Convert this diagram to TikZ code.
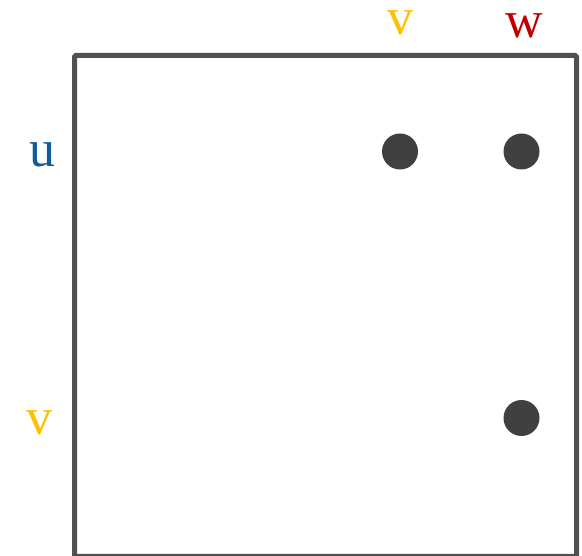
\documentclass[tikz,border=0pt]{standalone}
\usepackage{fontspec}
\setmainfont{Liberation Serif}
\usetikzlibrary{positioning}

\definecolor{frame}{HTML}{505050}
\definecolor{entry}{HTML}{404040}
\definecolor{ucol}{HTML}{0F5B9B}
\definecolor{vcol}{HTML}{FFC000}
\definecolor{wcol}{HTML}{C00000}

\tikzset{
  vtx/.style={circle, fill=entry, inner sep=0pt, minimum size=36pt},
  lbl/.style={anchor=base, font=\fontsize{52}{52}\selectfont, inner sep=0pt}
}

\begin{document}
\begin{tikzpicture}[x=1pt, y=-1pt]
  \useasboundingbox (0,0) rectangle (582,556);

  % the matrix
  \draw[frame, line width=5pt, rounded corners=1.5pt] (74.5,55.5) rectangle (576.5,556.5);

  % column labels
  \node[lbl, text=vcol] (cv) at (400,35) {v};
  \node[lbl, text=wcol] (cw) at (524.5,38) {w};

  % row labels
  \node[lbl, text=ucol] (ru) at (42,167) {u};
  \node[lbl, text=vcol] (rv) at (40,435) {v};

  % entries
  \node[vtx] (uv) at (400,151.5) {};
  \node[vtx] (uw) at (521.5,151.5) {};
  \node[vtx] (vw) at (521.5,418) {};
\end{tikzpicture}
\end{document}
